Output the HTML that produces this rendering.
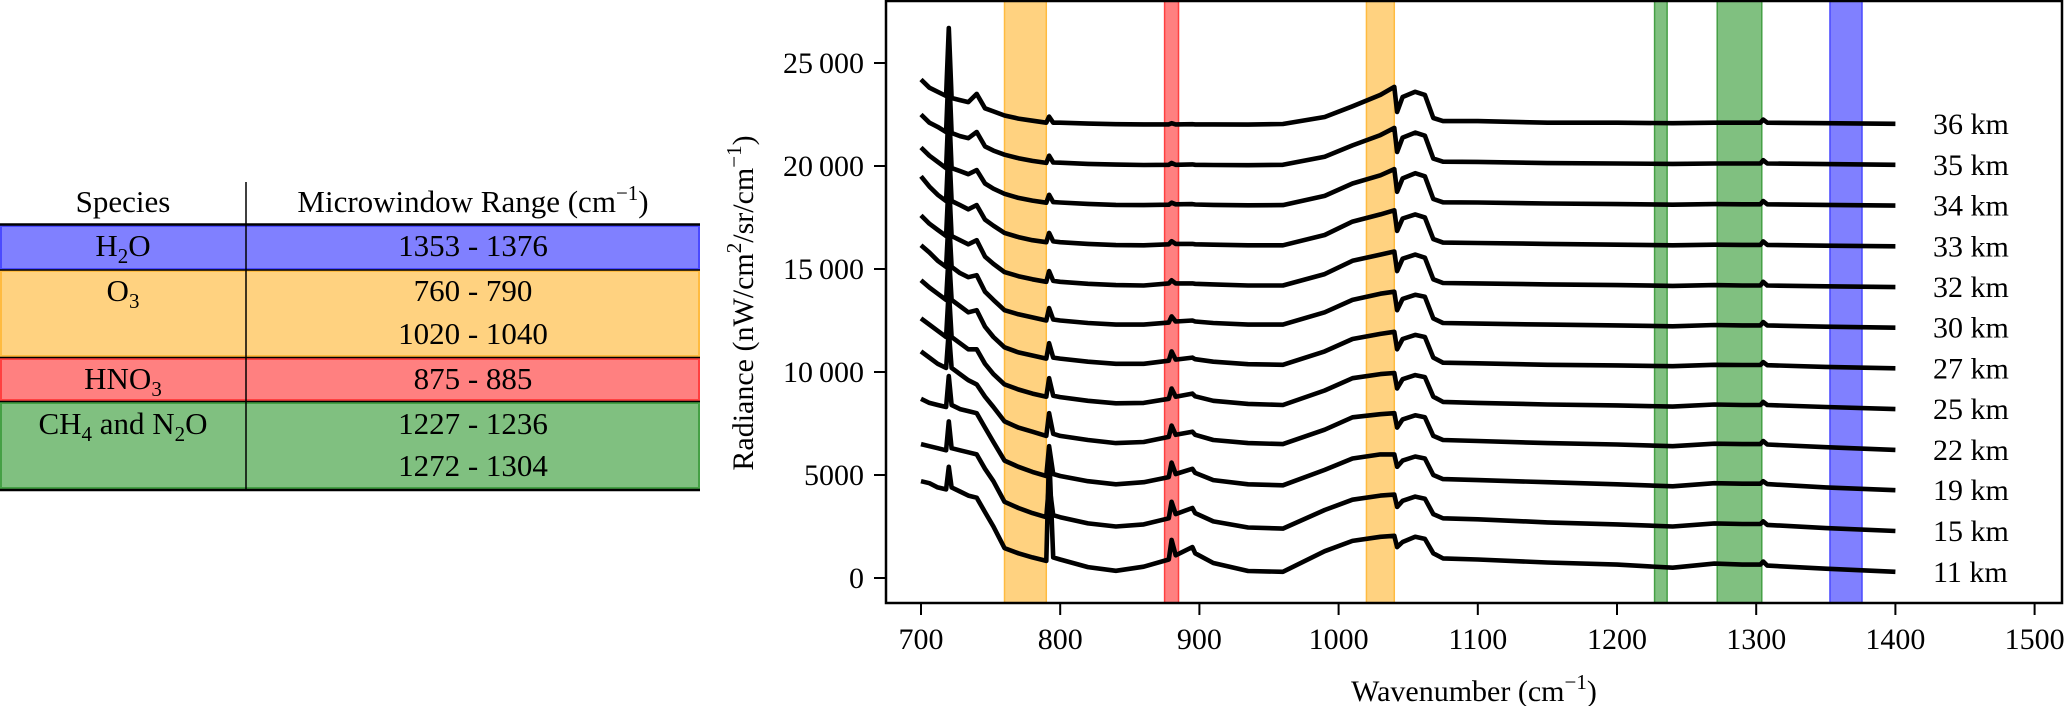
<!DOCTYPE html>
<html><head><meta charset="utf-8">
<style>
html,body{margin:0;padding:0;background:#fff;}
svg{display:block;font-family:"Liberation Serif","DejaVu Serif",serif;}
</style></head>
<body>
<svg id="fig" width="2067" height="706" viewBox="0 0 2067 706" xmlns="http://www.w3.org/2000/svg">
  <g id="table" font-size="31" text-anchor="middle" fill="#000">
    <rect x="1" y="226" width="698" height="43" fill="#8080ff" stroke="#4a4aff" stroke-width="2"/>
    <rect x="1" y="271" width="698" height="85" fill="#ffd280" stroke="#ffbb40" stroke-width="2"/>
    <rect x="1" y="359" width="698" height="41" fill="#ff8080" stroke="#ff4040" stroke-width="2"/>
    <rect x="1" y="403" width="698" height="85" fill="#80c080" stroke="#45a045" stroke-width="2"/>
    <line x1="0" y1="224.5" x2="700" y2="224.5" stroke="#000" stroke-width="2.5"/>
    <line x1="0" y1="270" x2="700" y2="270" stroke="#000" stroke-width="1.5"/>
    <line x1="0" y1="357.5" x2="700" y2="357.5" stroke="#000" stroke-width="1.5"/>
    <line x1="0" y1="401.5" x2="700" y2="401.5" stroke="#000" stroke-width="1.5"/>
    <line x1="0" y1="490" x2="700" y2="490" stroke="#000" stroke-width="2.5"/>
    <line x1="246" y1="182" x2="246" y2="490" stroke="#000" stroke-width="1.5"/>
    <text x="123" y="212">Species</text>
    <text x="473" y="212">Microwindow Range (cm<tspan dy="-12" font-size="21">−1</tspan><tspan dy="12">)</tspan></text>
    <text x="123" y="256">H<tspan dy="7" font-size="21">2</tspan><tspan dy="-7">O</tspan></text>
    <text x="473" y="256">1353 - 1376</text>
    <text x="123" y="301">O<tspan dy="7" font-size="21">3</tspan></text>
    <text x="473" y="301">760 - 790</text>
    <text x="473" y="344">1020 - 1040</text>
    <text x="123" y="389">HNO<tspan dy="7" font-size="21">3</tspan></text>
    <text x="473" y="389">875 - 885</text>
    <text x="123" y="434">CH<tspan dy="7" font-size="21">4</tspan><tspan dy="-7"> and N</tspan><tspan dy="7" font-size="21">2</tspan><tspan dy="-7">O</tspan></text>
    <text x="473" y="434">1227 - 1236</text>
    <text x="473" y="476">1272 - 1304</text>
  </g>
  <g id="chart"></g>
</svg>
<script>
const wavenumbers = [700,706,712,718,720,722,728,734,740,746,752,760,770,780,790,792,795,800,820,840,860,878,880,883,895,897,910,935,960,990,1010,1030,1040,1042,1046,1055,1062,1068,1075,1100,1150,1200,1240,1270,1290,1303,1305,1308,1350,1400];
const altitudes = ["11 km","15 km","19 km","22 km","25 km","27 km","30 km","32 km","33 km","34 km","35 km","36 km"];
const offsets = [0,2000,4000,6000,8000,10000,12000,14000,16000,18000,20000,22000];
const s11 = [4700,4600,4400,4300,5400,4400,4200,4000,3900,3200,2500,1450,1200,1000,830,6100,1000,900,530,350,550,900,1850,1100,1500,1200,730,340,300,1300,1800,2000,2050,1500,1750,2000,1900,1200,950,900,750,650,500,700,650,650,800,600,450,300];
const s15 = [4500,4400,4300,4200,5600,4300,4200,4100,4000,3300,2700,1700,1400,1150,950,2600,1050,950,650,500,600,900,1700,1100,1400,1150,750,450,400,1300,1800,2000,2050,1450,1750,1950,1850,1100,900,850,700,600,500,650,620,620,750,580,420,280];
const s19 = [4700,4500,4400,4300,5800,4400,4200,4100,4000,3300,2600,1700,1400,1150,950,2400,1050,950,700,550,650,900,1600,1050,1300,1100,750,550,500,1250,1800,2000,2000,1400,1700,1900,1800,1000,800,750,650,550,450,600,580,580,700,560,400,260];
const s22 = [5000,4700,4400,4200,6000,4200,3900,3600,3400,2800,2300,1600,1300,1100,900,2000,1000,900,700,550,600,850,1400,950,1100,950,700,550,500,1200,1800,1950,2000,1300,1700,1900,1800,900,700,650,550,480,400,520,500,500,650,480,350,220];
const s25 = [4600,4300,4000,3700,6000,3700,3400,3100,3100,2400,1900,1400,1150,950,800,1700,850,780,600,480,500,700,1200,800,950,820,600,450,400,1100,1700,1900,1950,1200,1650,1850,1750,800,550,500,420,380,320,420,400,400,550,400,300,200];
const s27 = [4450,4100,3800,3500,5800,3500,3200,2900,3000,2200,1700,1200,950,800,650,1400,700,650,500,400,400,550,1000,600,700,620,500,380,350,1000,1600,1850,1950,1100,1600,1800,1700,700,450,420,350,320,280,350,340,340,480,330,250,180];
const s30 = [4150,3800,3400,3100,5600,3100,2800,2600,2700,1900,1500,1000,800,650,500,1100,550,500,380,300,300,400,700,450,500,450,380,300,300,900,1500,1800,1900,1000,1550,1750,1650,600,380,350,300,260,220,280,260,260,420,260,200,150];
const s32 = [3600,3200,2900,2600,5400,2600,2400,2200,2400,1600,1250,850,650,500,380,900,420,380,280,220,200,300,450,300,300,280,250,200,200,750,1400,1700,1850,900,1500,1700,1550,500,320,300,250,220,180,220,200,200,380,200,160,120];
const s33 = [3500,3000,2600,2300,5200,2300,2100,1900,2100,1400,1100,750,550,400,300,750,340,300,220,160,150,200,350,220,220,200,180,150,150,650,1300,1650,1850,850,1450,1650,1500,450,280,260,220,180,150,180,170,170,340,170,130,100];
const s34 = [2900,2500,2200,1900,5000,1900,1750,1600,1800,1150,900,650,450,320,220,600,250,230,160,110,100,120,220,140,150,130,110,90,100,550,1150,1550,1850,750,1400,1650,1500,400,240,230,180,150,120,150,140,140,300,140,110,80];
const s35 = [2500,2100,1900,1650,4900,1600,1450,1350,1650,950,750,550,380,250,150,500,170,160,100,70,50,60,150,60,80,60,50,40,60,450,1000,1500,1850,680,1380,1620,1470,360,210,200,140,120,100,120,120,120,280,120,90,60];
const s36 = [2200,1800,1600,1400,4700,1300,1200,1100,1500,800,650,450,300,200,100,400,100,100,60,30,20,20,80,20,30,20,20,10,40,380,900,1450,1840,620,1350,1600,1450,330,180,180,100,100,80,100,100,100,250,100,80,50];
const series = [s11,s15,s19,s22,s25,s27,s30,s32,s33,s34,s35,s36];
const bandStarts = [760,1020,875,1227,1272,1353];
const bandEnds = [790,1040,885,1236,1304,1376];
const bandSpecies = ["o3","o3","hno3","ch4-n2o","ch4-n2o","h2o"];
const xTicks = [700,800,900,1000,1100,1200,1300,1400,1500];
const yTicks = [0,5000,10000,15000,20000,25000];
const yTickLabels = ["0","5000","10\u2009000","15\u2009000","20\u2009000","25\u2009000"];

const NS = "http://www.w3.org/2000/svg";
const L = 886, R = 2062, T = 1, B = 603;
const xS = w => 921 + (w - 700) * 1.392;
const yS = v => 578 - v * 0.0206;
const bandFill = {o3:"#ffd280", hno3:"#ff8080", "ch4-n2o":"#80c080", h2o:"#8080ff"};
const bandEdge = {o3:"#ffbb40", hno3:"#ff4040", "ch4-n2o":"#45a045", h2o:"#4a4aff"};
const chart = document.getElementById("chart");
function mk(tag, attrs, parent){const e=document.createElementNS(NS,tag);for(const k in attrs)e.setAttribute(k,attrs[k]);(parent||chart).appendChild(e);return e;}

for (let i = 0; i < bandStarts.length; i++) {
  const r = mk("rect", {x:xS(bandStarts[i]), y:T, width:xS(bandEnds[i])-xS(bandStarts[i]), height:B-T, fill:bandFill[bandSpecies[i]], stroke:bandEdge[bandSpecies[i]], "stroke-width":1.5});
  
  
}
for (let s = 0; s < series.length; s++) {
  const d = wavenumbers.map((w,i)=>(i?"L":"M")+xS(w).toFixed(1)+","+yS(series[s][i]+offsets[s]).toFixed(1)).join("");
  const p = mk("path", {d:d, fill:"none", stroke:"#000", "stroke-width":4.6, "stroke-linejoin":"round"});
  
  
  const lastV = series[s][series[s].length-1] + offsets[s];
  const t = mk("text", {x:1933, y:yS(lastV)+10, "font-size":30});
  t.textContent = altitudes[s];
  
  
}
const frame = mk("rect", {x:L, y:T, width:R-L, height:B-T, fill:"none", stroke:"#000", "stroke-width":2.5});


for (const v of xTicks) {
  const tk = mk("line", {x1:xS(v), x2:xS(v), y1:B, y2:B+12, stroke:"#000", "stroke-width":2});
  
  
  const lb = mk("text", {x:xS(v), y:649, "font-size":30, "text-anchor":"middle"});
  lb.textContent = String(v);
  
  
}
yTicks.forEach((v,i)=>{
  const tk = mk("line", {x1:L-12, x2:L, y1:yS(v), y2:yS(v), stroke:"#000", "stroke-width":2});
  
  
  const lb = mk("text", {x:864, y:yS(v)+10, "font-size":30, "text-anchor":"end"});
  lb.textContent = yTickLabels[i];
  
  
});
const xt = mk("text", {x:1474, y:701, "font-size":30, "text-anchor":"middle"});
xt.innerHTML = 'Wavenumber (cm<tspan dy="-12" font-size="21">−1</tspan><tspan dy="12">)</tspan>';


const yt = mk("text", {x:0, y:0, "font-size":30, "text-anchor":"middle", transform:"translate(753,303) rotate(-90)"});
yt.innerHTML = 'Radiance (nW/cm<tspan dy="-12" font-size="21">2</tspan><tspan dy="12">/sr/cm</tspan><tspan dy="-12" font-size="21">−1</tspan><tspan dy="12">)</tspan>';


</script>
</body></html>
